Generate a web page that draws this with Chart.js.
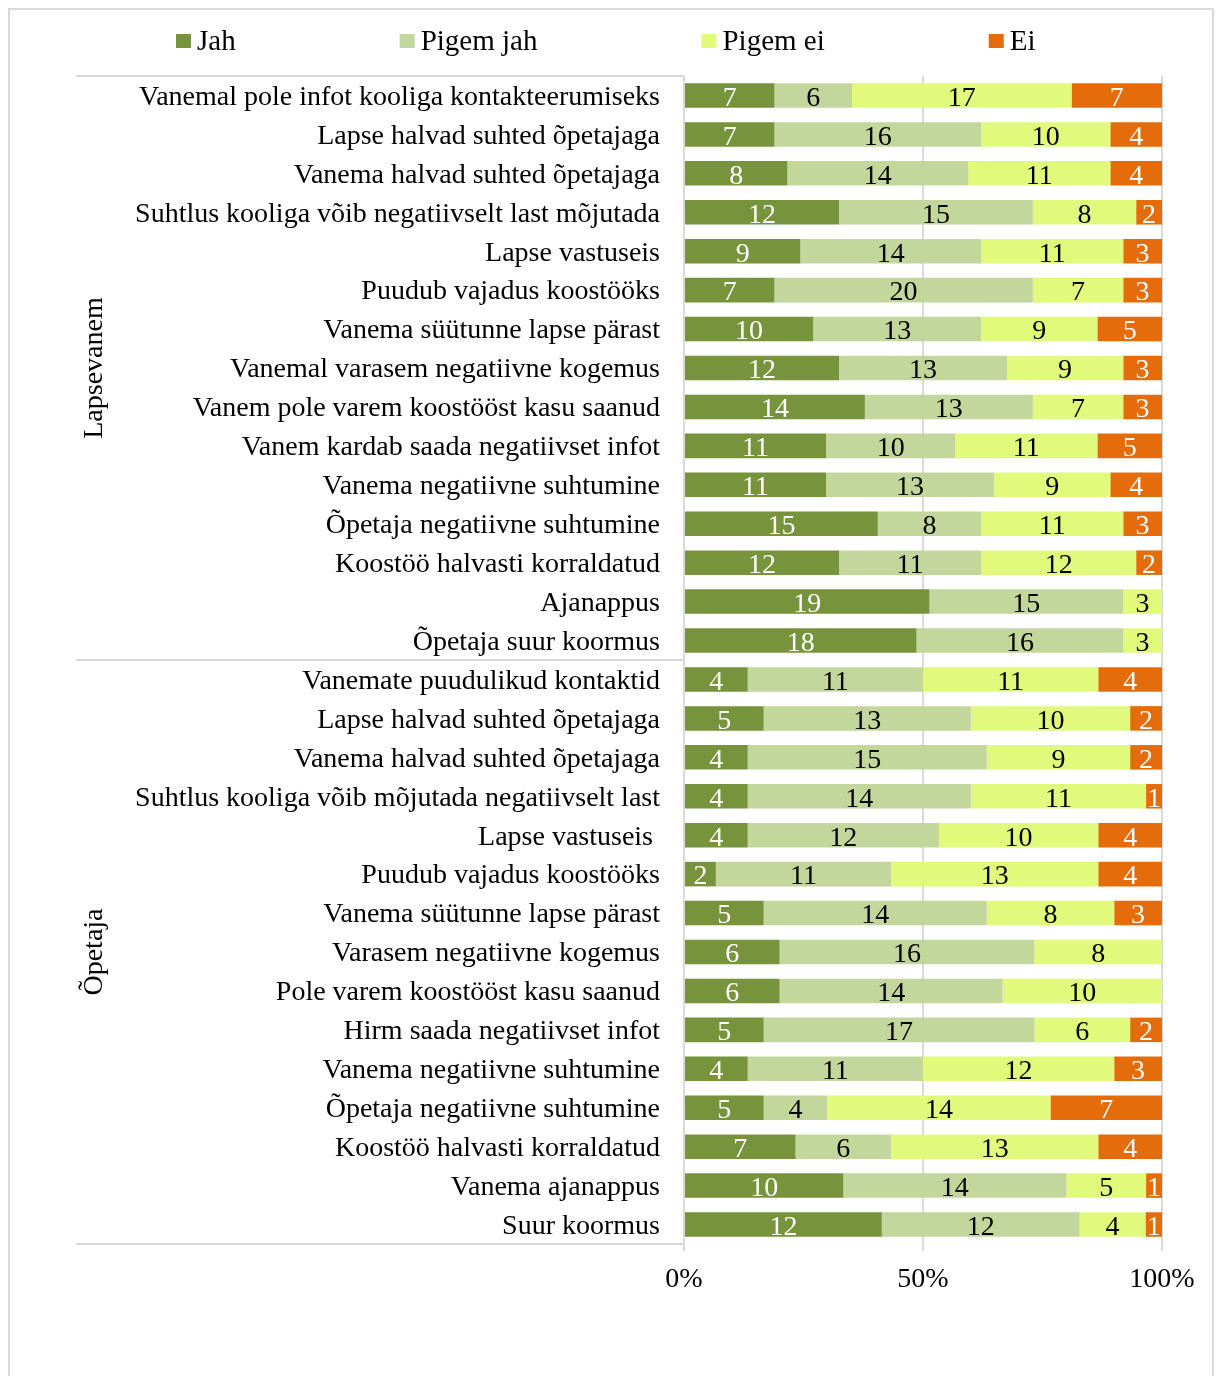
<!DOCTYPE html>
<html>
<head>
<meta charset="utf-8">
<script src="https://cdn.jsdelivr.net/npm/chart.js@4.4.1/dist/chart.umd.min.js"></script>
<style>
  html, body { margin: 0; padding: 0; background: #ffffff; }
  #wrap { position: relative; width: 1218px; height: 1376px; }
</style>
</head>
<body>
<div id="wrap"><canvas id="myChart" width="1218" height="1376"></canvas></div>
<script>
// category labels, top to bottom
var categories = [
  "Vanemal pole infot kooliga kontakteerumiseks",
  "Lapse halvad suhted õpetajaga",
  "Vanema halvad suhted õpetajaga",
  "Suhtlus kooliga võib negatiivselt last mõjutada",
  "Lapse vastuseis",
  "Puudub vajadus koostööks",
  "Vanema süütunne lapse pärast",
  "Vanemal varasem negatiivne kogemus",
  "Vanem pole varem koostööst kasu saanud",
  "Vanem kardab saada negatiivset infot",
  "Vanema negatiivne suhtumine",
  "Õpetaja negatiivne suhtumine",
  "Koostöö halvasti korraldatud",
  "Ajanappus",
  "Õpetaja suur koormus",
  "Vanemate puudulikud kontaktid",
  "Lapse halvad suhted õpetajaga",
  "Vanema halvad suhted õpetajaga",
  "Suhtlus kooliga võib mõjutada negatiivselt last",
  "Lapse vastuseis ",
  "Puudub vajadus koostööks",
  "Vanema süütunne lapse pärast",
  "Varasem negatiivne kogemus",
  "Pole varem koostööst kasu saanud",
  "Hirm saada negatiivset infot",
  "Vanema negatiivne suhtumine",
  "Õpetaja negatiivne suhtumine",
  "Koostöö halvasti korraldatud",
  "Vanema ajanappus",
  "Suur koormus"
];

// groups (name, number of rows)
var groupNames = ["Lapsevanem", "Õpetaja"];
var groupSizes = [15, 15];

var seriesNames = ["Jah", "Pigem jah", "Pigem ei", "Ei"];

// answer counts per row
var jah      = [7, 7, 8, 12, 9, 7, 10, 12, 14, 11, 11, 15, 12, 19, 18,
                4, 5, 4, 4, 4, 2, 5, 6, 6, 5, 4, 5, 7, 10, 12];
var pigemJah = [6, 16, 14, 15, 14, 20, 13, 13, 13, 10, 13, 8, 11, 15, 16,
                11, 13, 15, 14, 12, 11, 14, 16, 14, 17, 11, 4, 6, 14, 12];
var pigemEi  = [17, 10, 11, 8, 11, 7, 9, 9, 7, 11, 9, 11, 12, 3, 3,
                11, 10, 9, 11, 10, 13, 8, 8, 10, 6, 12, 14, 13, 5, 4];
var ei       = [7, 4, 4, 2, 3, 3, 5, 3, 3, 5, 4, 3, 2, 0, 0,
                4, 2, 2, 1, 4, 4, 3, 0, 0, 2, 3, 7, 4, 1, 1];

var xTicks = [0, 50, 100];

var colors = ["#77933C", "#C3D69B", "#E1FA7C", "#E46C0A"];
var labelColors = ["#ffffff", "#000000", "#000000", "#ffffff"];
var FONT = "'Liberation Serif', 'Times New Roman', serif";

// 100% stacked: turn counts into shares of the row total
var counts = [jah, pigemJah, pigemEi, ei];
var totals = [];
for (var i = 0; i < categories.length; i++) {
  totals.push(jah[i] + pigemJah[i] + pigemEi[i] + ei[i]);
}

var datasets = [];
for (var s = 0; s < counts.length; s++) {
  datasets.push({
    label: seriesNames[s],
    data: counts[s].map(function (v, i) { return v / totals[i] * 100; }),
    counts: counts[s],
    backgroundColor: colors[s],
    borderWidth: 0,
    barPercentage: 0.63,
    categoryPercentage: 1
  });
}

// frame, legend, group lines + labels, value labels
var decorations = {
  id: 'decorations',
  beforeDraw: function (chart) {
    var c = chart.ctx;
    c.save();
    c.strokeStyle = '#D9D9D9';
    c.lineWidth = 2;
    c.strokeRect(9, 9, 1204, 1420);
    c.restore();
  },
  afterDatasetsDraw: function (chart) {
    var c = chart.ctx;
    var area = chart.chartArea;
    c.save();

    // value labels
    c.font = '28px ' + FONT;
    c.textAlign = 'center';
    c.textBaseline = 'middle';
    chart.data.datasets.forEach(function (ds, di) {
      var meta = chart.getDatasetMeta(di);
      meta.data.forEach(function (bar, i) {
        var v = ds.counts[i];
        if (!v) return;
        c.fillStyle = labelColors[di];
        c.fillText(String(v), (bar.x + bar.base) / 2, bar.y + 3);
      });
    });

    // group separators and names
    var step = (area.bottom - area.top) / categories.length;
    c.strokeStyle = '#D9D9D9';
    c.lineWidth = 2;
    var start = 0;
    var edges = [area.top];
    for (var g = 0; g < groupSizes.length; g++) {
      start += groupSizes[g];
      edges.push(area.top + start * step);
    }
    edges.forEach(function (y) {
      c.beginPath();
      c.moveTo(76, y);
      c.lineTo(area.left, y);
      c.stroke();
    });
    c.fillStyle = '#000000';
    c.font = '28px ' + FONT;
    for (var g2 = 0; g2 < groupNames.length; g2++) {
      var mid = (edges[g2] + edges[g2 + 1]) / 2;
      c.save();
      c.translate(95, mid);
      c.rotate(-Math.PI / 2);
      c.textAlign = 'center';
      c.textBaseline = 'middle';
      c.fillText(groupNames[g2], 0, 0);
      c.restore();
    }

    // legend
    var x = 176;
    c.font = '29px ' + FONT;
    c.textAlign = 'left';
    c.textBaseline = 'middle';
    for (var k = 0; k < seriesNames.length; k++) {
      c.fillStyle = colors[k];
      c.fillRect(x, 34, 15, 14);
      c.fillStyle = '#000000';
      c.fillText(seriesNames[k], x + 21, 42);
      x += 21 + c.measureText(seriesNames[k]).width + 164;
    }
    c.restore();
  }
};

var ctx = document.getElementById('myChart').getContext('2d');
var myChart = new Chart(ctx, {
  type: 'bar',
  data: { labels: categories, datasets: datasets },
  plugins: [decorations],
  options: {
    indexAxis: 'y',
    responsive: false,
    animation: false,
    devicePixelRatio: 1,
    layout: { padding: { left: 0, top: 76, right: 56, bottom: 72 } },
    plugins: {
      legend: { display: false },
      tooltip: { enabled: false }
    },
    scales: {
      x: {
        stacked: true,
        min: 0,
        max: 100,
        afterBuildTicks: function (scale) {
          scale.ticks = xTicks.map(function (v) { return { value: v }; });
        },
        afterFit: function (scale) { scale.height = 60; },
        ticks: {
          callback: function (v) { return v + '%'; },
          font: { family: FONT, size: 28 },
          color: '#000000',
          padding: 12,
          maxRotation: 0
        },
        grid: { color: '#D9D9D9', lineWidth: 2, drawTicks: true, tickLength: 7 },
        border: { display: false }
      },
      y: {
        stacked: true,
        afterFit: function (scale) { scale.width = 684; },
        ticks: {
          font: { family: FONT, size: 28 },
          color: '#000000',
          padding: 16,
          labelOffset: 2,
          autoSkip: false
        },
        grid: { display: false },
        border: { display: false }
      }
    }
  }
});
</script>
</body>
</html>
